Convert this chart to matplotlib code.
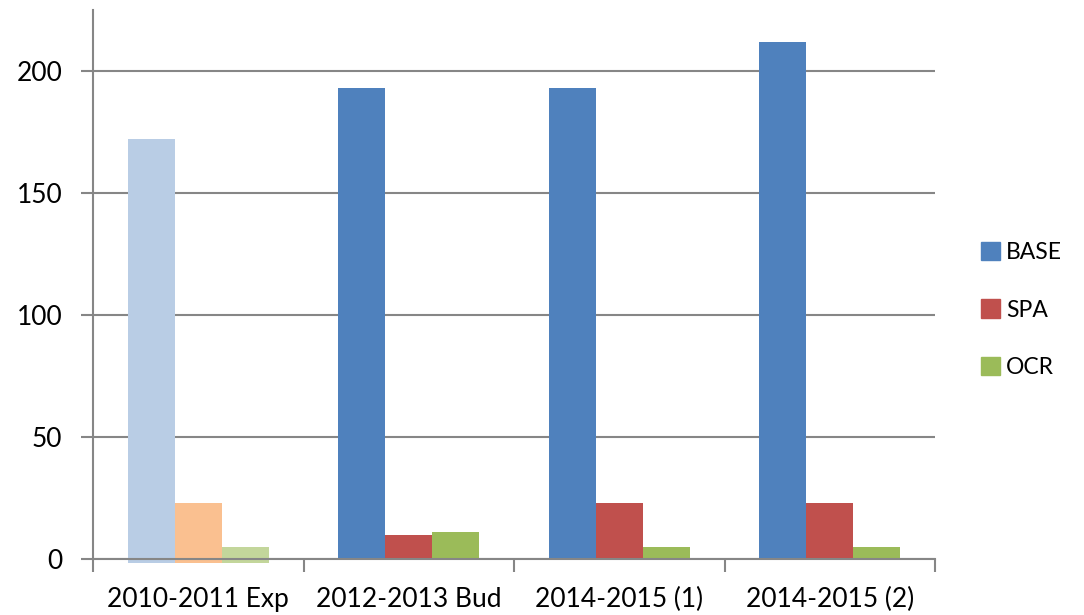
import matplotlib
matplotlib.use("Agg")
import matplotlib.pyplot as plt
import matplotlib.patches as mpatches
import numpy as np

categories = ["2010-2011 Exp", "2012-2013 Bud", "2014-2015 (1)", "2014-2015 (2)"]
series = ["BASE", "SPA", "OCR"]
base = [172, 193, 193, 212]
spa = [23, 10, 23, 23]
ocr = [5, 11, 5, 5]

colors = ["#4F81BD", "#C0504D", "#9BBB59"]
faded = ["#B9CDE5", "#FAC090", "#C3D69B"]

plt.rcParams['font.family'] = ['Lato', 'DejaVu Sans']

def main():
    fig = plt.figure(figsize=(10.84, 6.15), dpi=100)
    ax = fig.add_axes([93 / 1084, 1 - 559 / 615, (935 - 93) / 1084, (559 - 10) / 615])

    x = np.arange(len(categories))
    w = 0.223
    values = [base, spa, ocr]
    for i, vals in enumerate(values):
        for j, v in enumerate(vals):
            c = faded[i] if j == 0 else colors[i]
            # first group is drawn a little below the axis in the original
            off = 1.6 if j == 0 else 0
            ax.bar(x[j] + (i - 1) * w, v + off, w, bottom=-off, color=c,
                   zorder=1, clip_on=False)

    ax.set_xlim(-0.5, len(categories) - 0.5)
    ax.set_ylim(0, 225)
    ax.set_yticks([0, 50, 100, 150, 200])
    ax.yaxis.grid(True, color="#868686", linewidth=1.5, zorder=0)
    ax.set_axisbelow(True)

    ax.set_xticks(np.arange(len(categories) + 1) - 0.5)
    ax.set_xticklabels([])
    ax.set_xticks(x, minor=True)
    ax.set_xticklabels(categories, minor=True, fontsize=19)
    ax.tick_params(axis="x", which="minor", length=0, pad=20)
    ax.tick_params(axis="x", which="major", length=9, width=1.5, color="#868686")
    ax.tick_params(axis="y", length=9, width=1.5, color="#868686", labelsize=19, pad=13)

    for s in ["top", "right"]:
        ax.spines[s].set_visible(False)
    for s in ["left", "bottom"]:
        ax.spines[s].set_color("#868686")
        ax.spines[s].set_linewidth(1.5)
        ax.spines[s].set_zorder(3)

    handles = [mpatches.Patch(color=c, label=s) for c, s in zip(colors, series)]
    fig.legend(handles=handles, loc="center left", bbox_to_anchor=(981 / 1084, 1 - 310 / 615),
               frameon=False, fontsize=16.5, handlelength=0.85, handleheight=0.85,
               handletextpad=0.25, labelspacing=1.6, borderpad=0, borderaxespad=0)

    fig.savefig("out.png", dpi=100)
    return 0

if __name__ == '__main__':
    main()
